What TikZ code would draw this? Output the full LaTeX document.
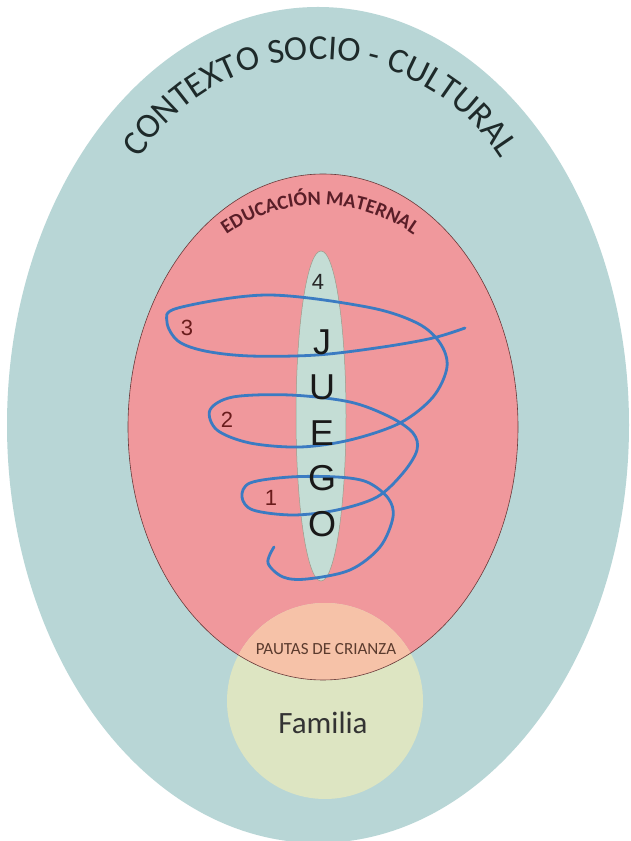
\documentclass[tikz,border=0pt]{standalone}
\usepackage{fontspec}
\setmainfont{Carlito}
\newfontfamily\arialf{Liberation Sans}
\usetikzlibrary{decorations.text}

\definecolor{ctxfill}{HTML}{B8D6D6}
\definecolor{edufill}{HTML}{F0989C}
\definecolor{edudraw}{HTML}{6A3A3A}
\definecolor{juefill}{HTML}{C4DDD5}
\definecolor{juedraw}{HTML}{9C9C8C}
\definecolor{famfill}{HTML}{DDE5C2}
\definecolor{paufill}{HTML}{F6C2A8}
\definecolor{espiral}{HTML}{3B7BC2}
\definecolor{ctxtext}{HTML}{1E2A2A}
\definecolor{edutext}{HTML}{5A1E28}
\definecolor{pautext}{HTML}{5B3B2E}
\definecolor{numtext}{HTML}{6A1C1C}

\tikzset{
	letra/.style = {font=\arialf\fontsize{36}{36}\selectfont, text=black!90, inner sep=0pt},
	numero/.style = {font=\arialf\fontsize{22}{22}\selectfont, text=numtext, inner sep=0pt}
}

\begin{document}
\begin{tikzpicture}[x=1pt, y=1pt]
			\useasboundingbox (0,0) rectangle (630,841);
			\fill[white] (0,0) rectangle (630,841);

			% circulos
			\fill[ctxfill] (318,416) ellipse [x radius=311, y radius=418];
			\fill[edufill] (323,414) ellipse [x radius=195, y radius=253];
			\fill[famfill] (325,140) circle [radius=98];
			\begin{scope}
				\clip (323,414) ellipse [x radius=195, y radius=253];
				\fill[paufill] (325,140) circle [radius=98];
			\end{scope}
			\draw[edudraw, line width=0.6pt] (323,414) ellipse [x radius=195, y radius=253];
			\filldraw[fill=juefill, draw=juedraw, line width=0.5pt] (321,425) ellipse [x radius=25, y radius=165];

			% espiral
			\draw[espiral, line width=2.8pt, line cap=round] plot[smooth, tension=0.55] coordinates {
				(274,294) (268,278) (283,264) (307,262) (350,271) (380,294) (393,324) (388,343)
				(367,359) (337,364) (290,364) (250,358) (242,344) (253,331) (293,326) (337,331)
				(377,344) (403,368) (417,391) (413,408) (390,424) (350,439) (290,446) (233,444)
				(210,431) (217,411) (250,398) (300,394) (350,401) (400,418) (433,444) (447,474)
				(440,498) (417,518) (367,534) (267,546) (178,533) (167,519) (178,500) (205,490)
				(250,485) (317,486) (383,494) (433,503) (465,513)};

			% textos curvos
			\path[decorate, decoration={text along path, text align=center, text color=ctxtext,
				text={|\fontsize{35}{35}\selectfont|CONTEXTO SOCIO - CULTURAL}}]
				(320,568) ++(170:214) arc[start angle=170, end angle=10, radius=214];
			\path[decorate, decoration={text along path, text align=center, text color=edutext,
				text={|\bfseries\fontsize{20}{20}\selectfont|EDUCACIÓN MATERNAL}}]
				(320,474) ++(135:162) arc[start angle=135, end angle=45, radius=162];

			\foreach \l [count=\i] in {J,U,E,G,O}
				\node[letra] (juego\i) at (322,{499-45.5*(\i-1)}) {\l};

			\node[numero, text=black!85] (n4) at (318,559) {4};
			\node[numero] (n3) at (187,513) {3};
			\node[numero] (n2) at (227,421) {2};
			\node[numero] (n1) at (271,343) {1};

			\node[text=pautext, font=\fontsize{17}{17}\selectfont] (pautas) at (326,192) {PAUTAS DE CRIANZA};
			\node[text=black!80, font=\fontsize{31}{31}\selectfont] (familia) at (323,118) {Familia};
		\end{tikzpicture}
\end{document}
